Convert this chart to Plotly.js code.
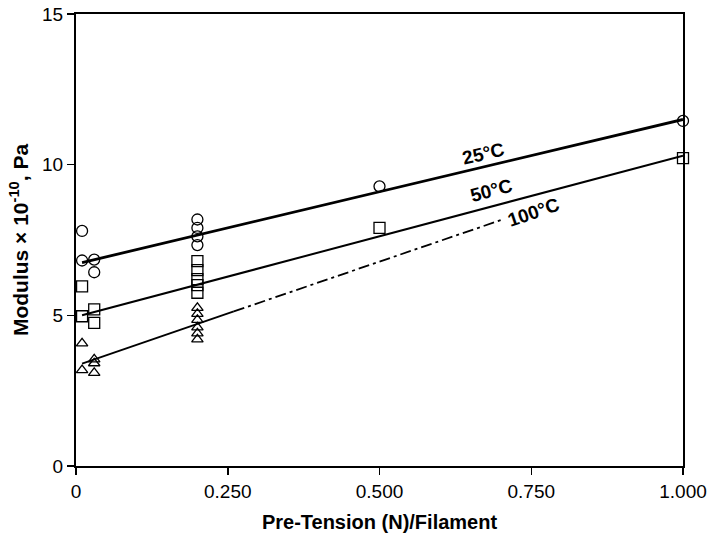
<!DOCTYPE html>
<html>
<head>
<meta charset="utf-8">
<script src="https://cdn.plot.ly/plotly-3.0.1.min.js"></script>
<style>html,body{margin:0;padding:0;background:#fff;}#chart{width:710px;height:534px;}</style>
</head>
<body>
<div id="chart"></div>
<script>
// Measured points
var c25x = [0.01, 0.01, 0.03, 0.03, 0.2, 0.2, 0.2, 0.2, 0.5, 1.0];
var c25y = [7.8, 6.82, 6.85, 6.43, 8.18, 7.9, 7.62, 7.33, 9.28, 11.45];
var s50x = [0.01, 0.01, 0.03, 0.03, 0.2, 0.2, 0.2, 0.2, 0.2, 0.5, 1.0];
var s50y = [5.96, 4.97, 5.2, 4.75, 6.8, 6.5, 6.2, 6.0, 5.75, 7.9, 10.22];
var t100x = [0.01, 0.01, 0.03, 0.03, 0.03, 0.2, 0.2, 0.2, 0.2, 0.2, 0.2];
var t100y = [4.07, 3.18, 3.54, 3.41, 3.09, 5.25, 5.05, 4.85, 4.6, 4.4, 4.2];
// Fitted lines
var fit25x = [0.01, 1.0];
var fit25y = [6.75, 11.5];
var fit50x = [0.01, 1.0];
var fit50y = [5.0, 10.3];
var fit100solidx = [0.01, 0.26];
var fit100solidy = [3.4, 5.13];
var fit100dashx = [0.26, 0.7];
var fit100dashy = [5.13, 8.16];
// Ticks
var xTickVals = [0, 0.25, 0.5, 0.75, 1.0];
var xTickText = ['0', '0.250', '0.500', '0.750', '1.000'];
var yTickVals = [0, 5, 10, 15];
var lineLabels = ['25°C', '50°C', '100°C'];
var labelX = [0.672, 0.684, 0.753];
var labelY = [10.38, 9.14, 8.42];
var labelAngle = [-13, -15, -19];

var mk = function(sym, size){ return {symbol: sym, size: size, color: '#000', line: {color: '#000', width: 1.3}}; };
var traces = [
  {x: fit25x, y: fit25y, mode: 'lines', line: {color: '#000', width: 2.8}, hoverinfo: 'skip'},
  {x: fit50x, y: fit50y, mode: 'lines', line: {color: '#000', width: 2}, hoverinfo: 'skip'},
  {x: fit100solidx, y: fit100solidy, mode: 'lines', line: {color: '#000', width: 1.8}, hoverinfo: 'skip'},
  {x: fit100dashx, y: fit100dashy, mode: 'lines', line: {color: '#000', width: 1.8, dash: '11px,4px,3px,4px'}, hoverinfo: 'skip'},
  {x: c25x, y: c25y, mode: 'markers', marker: mk('circle-open', 11), cliponaxis: false},
  {x: s50x, y: s50y, mode: 'markers', marker: mk('square-open', 11), cliponaxis: false},
  {x: t100x, y: t100y, mode: 'markers', marker: mk('triangle-up-open', 10), cliponaxis: false}
];

var annotations = lineLabels.map(function(t, i){
  return {x: labelX[i], y: labelY[i], xref: 'x', yref: 'y', text: '<b>' + t + '</b>', showarrow: false,
          textangle: labelAngle[i], font: {family: 'Liberation Sans, Arial, sans-serif', size: 19, color: '#000'}};
});

var layout = {
  width: 710, height: 534,
  margin: {l: 76, r: 27, t: 14, b: 68},
  paper_bgcolor: '#fff', plot_bgcolor: '#fff',
  showlegend: false,
  font: {family: 'Liberation Sans, Arial, sans-serif', color: '#000'},
  xaxis: {
    range: [0, 1.0], tickvals: xTickVals, ticktext: xTickText,
    ticks: 'outside', ticklen: 7, tickwidth: 1.5, tickcolor: '#000',
    showline: true, linecolor: '#000', linewidth: 2, mirror: true,
    showgrid: false, zeroline: false,
    tickfont: {size: 19, color: '#000'},
    title: {text: '<b>Pre-Tension (N)/Filament</b>', font: {size: 20, color: '#000'}, standoff: 14}
  },
  yaxis: {
    range: [0, 15], tickvals: yTickVals,
    ticks: 'outside', ticklen: 7, tickwidth: 1.5, tickcolor: '#000',
    showline: true, linecolor: '#000', linewidth: 2, mirror: true,
    showgrid: false, zeroline: false,
    tickfont: {size: 19, color: '#000'},
    title: {text: '<b>Modulus × 10<sup>-10</sup>, Pa</b>', font: {size: 21, color: '#000'}, standoff: 8}
  },
  annotations: annotations
};

Plotly.newPlot('chart', traces, layout, {displayModeBar: false, staticPlot: true});
</script>
</body>
</html>
